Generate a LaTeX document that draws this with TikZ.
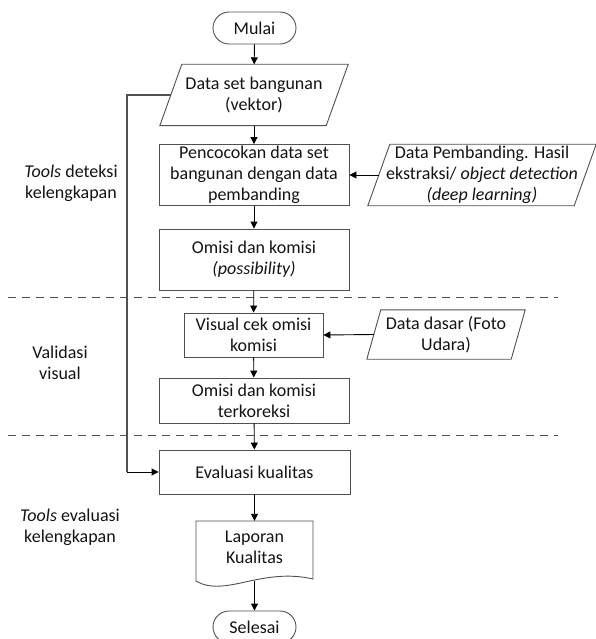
\documentclass[tikz,border=0pt]{standalone}
\usepackage{fontspec}
\setmainfont{Carlito}
\usetikzlibrary{arrows.meta,calc}
\definecolor{lc}{HTML}{505050}
\definecolor{tc}{HTML}{141414}
\newcommand\fs{\fontsize{18}{21}\selectfont}
\newcommand\drawpara[2]{\draw[shp] ([xshift=#2]#1.north west) -- ([xshift=#2]#1.north east) -- ([xshift=-#2]#1.south east) -- ([xshift=-#2]#1.south west) -- cycle;}
\tikzset{
  shp/.style={draw=lc, line width=0.9pt, fill=white},
  bx/.style={shp, rectangle, align=center, inner sep=0pt, font=\fs, text=tc},
  term/.style={bx, rounded corners=16pt, minimum width=83pt, minimum height=32pt},
  io/.style={rectangle, align=center, inner sep=0pt, font=\fs, text=tc},
  lbl/.style={align=center, inner sep=0pt, font=\fs, text=tc},
  arr/.style={line width=0.9pt, draw=black, -{Triangle[length=7pt,width=7pt]}},
  ln/.style={line width=1.2pt, draw=lc},
  sep/.style={line width=0.9pt, draw=lc, dash pattern=on 8pt off 6pt}
}
\begin{document}
\begin{tikzpicture}[x=1pt,y=-1pt]
\useasboundingbox (0,0) rectangle (595,639);
\fill[white] (0,0) rectangle (595,639);

% separators
\draw[sep] (8,297) -- (558,297);
\draw[sep] (8,435) -- (558,435);

% nodes
\node[term] (mulai) at (254.5,28) {Mulai};
\node[io, minimum width=166pt, minimum height=61pt] (ds) at (254,95) {};
\drawpara{ds}{11}
\node[lbl] at (ds) {Data set bangunan\\(vektor)};

\node[bx, minimum width=190pt, minimum height=61pt] (pc) at (254,175) {Pencocokan data set\\bangunan dengan data\\pembanding};

\node[io, minimum width=206pt, minimum height=61pt] (dp) at (482,175) {};
\drawpara{dp}{11}
\node[lbl] at (dp) {Data Pembanding. Hasil\\ekstraksi/ \textit{object detection}\\\textit{(deep learning)}};

\node[bx, minimum width=190pt, minimum height=61pt] (om) at (254,259.5) {Omisi dan komisi\\\textit{(possibility)}};

\node[bx, minimum width=139pt, minimum height=44pt] (vc) at (253.5,335) {Visual cek omisi\\komisi};

\node[io, minimum width=144pt, minimum height=49pt] (dd) at (446,334.5) {};
\drawpara{dd}{7}
\node[lbl] at (dd) {Data dasar (Foto\\Udara)};

\node[bx, minimum width=190pt, minimum height=45pt] (ok) at (254,400.5) {Omisi dan komisi\\terkoreksi};

\node[bx, minimum width=191pt, minimum height=44pt] (ev) at (254.5,472) {Evaluasi kualitas};

\node[io, minimum width=117pt, minimum height=60pt] (lap) at (254.5,551) {};
\draw[shp] (196,521) -- (313,521) -- (313,579) .. controls (261,567) and (225,598) .. (196,581) -- cycle;
\node[lbl] at (254.5,547) {Laporan\\Kualitas};

\node[term] (sel) at (254.5,627) {Selesai};

% side labels
\node[lbl] (l1) at (71,183) {\textit{Tools} deteksi\\kelengkapan};
\node[lbl] (l2) at (60,363) {Validasi\\visual};
\node[lbl] (l3) at (70,527) {\textit{Tools} evaluasi\\kelengkapan};

% connectors
\draw[arr] (mulai) -- (ds);
\draw[arr] (ds) -- (pc);
\draw[arr] (dp.west) -- (pc.east);
\draw[arr] (pc) -- (om);
\draw[arr] (om) -- (vc);
\draw[arr] (dd.west) -- (vc.east);
\draw[arr] (vc) -- (ok);
\draw[arr] (ok) -- (ev);
\draw[arr] (ev) -- (lap.north);
\draw[arr] (lap.south) -- (sel);
\coordinate (c1) at (127,95);
\coordinate (c2) at (127,472);
\draw[ln] (ds.west) -- (c1) -- (c2);
\draw[arr] (c2) -- (ev.west);
\end{tikzpicture}
\end{document}
